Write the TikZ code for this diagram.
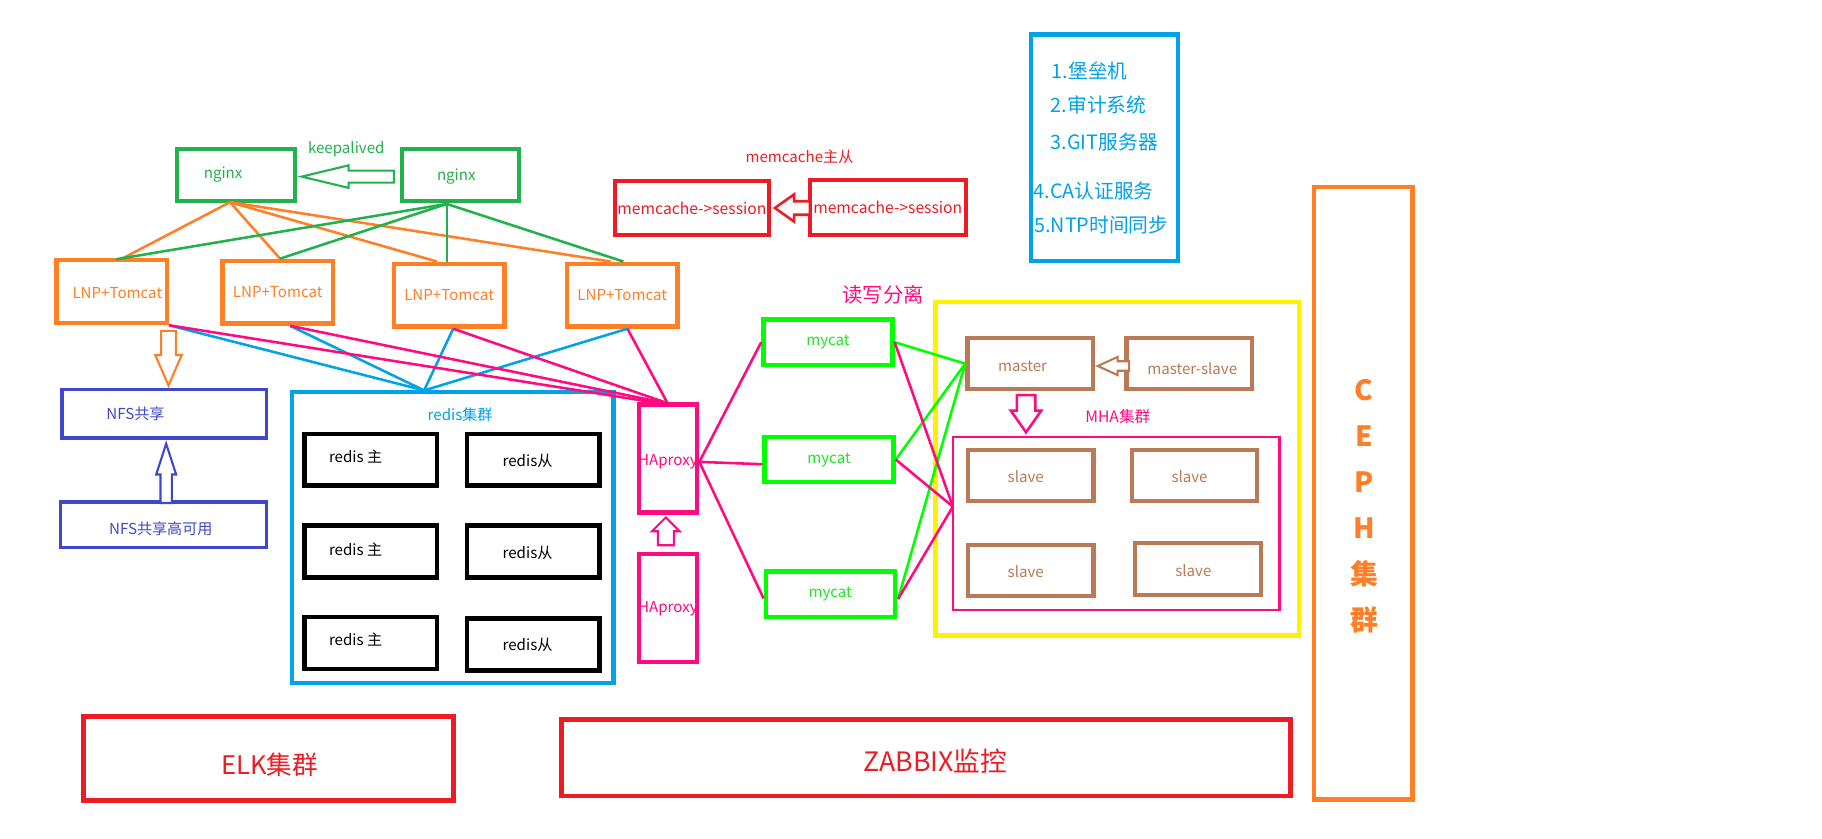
\documentclass[tikz,border=0pt]{standalone}
\usepackage{fontspec}
\setmainfont{Noto Sans CJK SC}
\usetikzlibrary{shapes.arrows,calc}
\definecolor{cgreen}{HTML}{22B14C}
\definecolor{corange}{HTML}{FF7F27}
\definecolor{cindigo}{HTML}{3F48CC}
\definecolor{ccyan}{HTML}{00A2E8}
\definecolor{cpink}{HTML}{FF0A80}
\definecolor{clime}{HTML}{00FF00}
\definecolor{climetext}{HTML}{22E622}
\definecolor{cyellow}{HTML}{FFF200}
\definecolor{cbrown}{HTML}{B97A57}
\definecolor{cred}{HTML}{ED1C24}
\newcommand\myfs[1]{\fontsize{#1}{#1}\selectfont}
\begin{document}
\begin{tikzpicture}[x=1pt,y=-1pt,
  box/.style={draw, rectangle, inner sep=0pt},
  txt/.style={inner sep=0pt, font=\myfs{13}},
  conn/.style={line width=2.2pt},
  barrow/.style={single arrow, draw, fill=white, minimum width=0pt,
                 single arrow head indent=0pt, anchor=tip, line width=1.8pt},
]
\useasboundingbox[fill=white] (0,0) rectangle (1568,722);

% ---------- nginx ----------
\node[box, draw=cgreen, line width=3.5pt, minimum width=102, minimum height=45] (nginxL) at (203,150.5) {};
\node[box, draw=cgreen, line width=3.5pt, minimum width=101, minimum height=45] (nginxR) at (396.5,150.5) {};
\node[txt, text=cgreen] (nginxLt) at (192,150) {nginx};
\node[txt, text=cgreen] (nginxRt) at (392.7,151.5) {nginx};
\node[txt, text=cgreen] (keep) at (298,128.5) {keepalived};
\node[barrow, draw=cgreen, shape border rotate=180, minimum height=79.5, inner sep=4.3,
      single arrow head extend=4.5, single arrow tip angle=27] (kaarrow) at ($(nginxL.east)+(0,1.5)$) {};

% ---------- LNP+Tomcat ----------
\tikzset{lnp/.style={box, draw=corange, line width=3.8pt, minimum width=95, minimum height=54,
  text=corange, font=\myfs{13}}}
\node[lnp] (lnpA) at (96,251) {};
\node[txt, text=corange] (lnpAt) at (101,252) {LNP+Tomcat};
\node[lnp] (lnpB) at (239,251.5) {LNP+Tomcat};
\node[lnp] (lnpC) at (386.5,254) {LNP+Tomcat};
\node[lnp] (lnpD) at (535.5,254) {LNP+Tomcat};

\coordinate (oStart) at (198,174);
\coordinate (gStart) at (384.5,175.5);
\draw[conn, corange] (oStart) -- ($(lnpA.north)+(10,0)$);
\draw[conn, corange] (oStart) -- ($(lnpB.north)+(2,0)$);
\draw[conn, corange] (oStart) -- ($(lnpC.north)+(-10.5,0)$);
\draw[conn, corange] (oStart) -- ($(lnpD.north)+(-10,0)$);
\draw[conn, cgreen] (gStart) -- ($(lnpA.north)+(4,1)$);
\draw[conn, cgreen] (gStart) -- ($(lnpB.north)+(2,0)$);
\draw[conn, cgreen] (gStart) -- ($(lnpC.north)+(-2,0)$);
\draw[conn, cgreen] (gStart) -- ($(lnpD.north)+(1,0)$);

% ---------- NFS ----------
\node[box, draw=cindigo, line width=3.1pt, minimum width=176, minimum height=41.5] (nfs) at (141.5,356) {};
\node[txt, text=cindigo] (nfst) at (116.6,355.7) {NFS共享};
\node[box, draw=cindigo, line width=3.1pt, minimum width=177.5, minimum height=39] (nfs2) at (140.75,451.5) {};
\node[txt, text=cindigo] (nfs2t) at (138.4,455) {NFS共享高可用};
\node[barrow, draw=corange, shape border rotate=270, minimum height=47, inner sep=5.5,
      single arrow head extend=5, single arrow tip angle=47] (a2nfs) at (145,334) {};
\node[barrow, draw=cindigo, shape border rotate=90, minimum height=51, inner sep=4,
      single arrow head extend=3.7, single arrow tip angle=36] (nfs2up) at (143,379) {};

% ---------- redis ----------
\node[box, draw=ccyan, line width=3.7pt, minimum width=276.5, minimum height=250] (redis) at (389.75,462.6) {};
\node[txt, text=ccyan] (redist) at (396,357) {redis集群};
\tikzset{rbox/.style={box, draw=black, line width=4pt, minimum width=114, minimum height=44.5}}
\node[rbox] (r1) at (319,395.75) {};
\node[rbox] (r2) at (458.75,395.75) {};
\node[rbox] (r3) at (319,474.7) {};
\node[rbox] (r4) at (458.75,474.7) {};
\node[rbox] (r5) at (319,553.35) {};
\node[rbox] (r6) at (458.75,554.75) {};
\node[txt] (r1t) at (306,393) {redis 主};
\node[txt] (r2t) at (454,396.5) {redis从};
\node[txt] (r3t) at (306,472.5) {redis 主};
\node[txt] (r4t) at (454,475.6) {redis从};
\node[txt] (r5t) at (306,550.8) {redis 主};
\node[txt] (r6t) at (454,555) {redis从};

% ---------- HAproxy ----------
\node[txt, text=cpink, anchor=west] (ha1t) at (549,397) {HAproxy};
\node[txt, text=cpink, anchor=west] (ha2t) at (549,524) {HAproxy};
\node[box, draw=cpink, line width=3.7pt, minimum width=50, minimum height=93] (ha1) at (575,394.5) {};
\node[box, draw=cpink, line width=3.7pt, minimum width=50, minimum height=93] (ha2) at (575,523.5) {};
\node[barrow, draw=cpink, shape border rotate=90, minimum height=24, inner sep=6,
      single arrow head extend=5, single arrow tip angle=90] (haup) at (573,444) {};

\coordinate (rtop) at (365,336);
\draw[conn, ccyan] (lnpA.south east) -- (rtop);
\draw[conn, ccyan] ($(lnpB.south)+(10.7,0)$) -- (rtop);
\draw[conn, ccyan] ($(lnpC.south)+(3.5,0)$) -- (rtop);
\draw[conn, ccyan] ($(lnpD.south)+(4.5,0)$) -- (rtop);
\draw[conn, cpink] (lnpA.south east) -- ($(ha1.north)+(-13,0)$);
\draw[conn, cpink] ($(lnpB.south)+(10.7,0)$) -- ($(ha1.north)+(-6,0)$);
\draw[conn, cpink] ($(lnpC.south)+(3.5,0)$) -- ($(ha1.north)+(-3,0)$);
\draw[conn, cpink] ($(lnpD.south)+(4.5,0)$) -- ($(ha1.north)+(-1,0)$);

% ---------- memcache ----------
\node[txt, text=cred] (memlab) at (688,135) {memcache主从};
\node[box, draw=cred, line width=3.5pt, minimum width=133, minimum height=46, text=cred, font=\myfs{13.5}] (mem1) at (595.5,179) {memcache->session};
\node[box, draw=cred, line width=3.5pt, minimum width=134, minimum height=47, text=cred, font=\myfs{13.5}] (mem2) at (764,178.5) {memcache->session};
\node[barrow, draw=cred, line width=2.2pt, shape border rotate=180, minimum height=30, inner sep=4.7,
      single arrow head extend=6, single arrow tip angle=71] (memarr) at (665,179) {};

% ---------- mycat ----------
\node[txt, text=cpink, font=\myfs{17.5}] (rw) at (760,254) {读写分离};
\tikzset{mycat/.style={box, draw=clime, line width=3.8pt, minimum width=111, minimum height=39,
  text=climetext, font=\myfs{13}}}
\node[mycat] (m1) at (712.5,294.5) {mycat};
\node[mycat] (m2) at (713.5,395.5) {mycat};
\node[mycat] (m3) at (714.5,511.5) {mycat};
\draw[conn, cpink] ($(ha1.east)+(0,3)$) -- (m1.west);
\draw[conn, cpink] ($(ha1.east)+(0,3)$) -- ($(m2.west)+(0,4)$);
\draw[conn, cpink] ($(ha1.east)+(0,3)$) -- ($(m3.west)+(0,3.5)$);

% ---------- MySQL / MHA ----------
\node[box, draw=cyellow, line width=4pt, minimum width=313, minimum height=287] (yel) at (961.5,403.5) {};
\tikzset{brbox/.style={box, draw=cbrown, line width=3.7pt, minimum width=108, minimum height=44,
  text=cbrown, font=\myfs{13}}}
\node[brbox] (master) at (886.5,313) {};
\node[txt, text=cbrown] (mastert) at (880,315) {master};
\node[brbox] (ms) at (1023.5,313) {};
\node[txt, text=cbrown] (mst) at (1026,317.6) {master-slave};
\node[barrow, draw=cbrown, shape border rotate=180, minimum height=27, inner sep=3.2,
      single arrow head extend=3.7, single arrow tip angle=49] (msarr) at (942.5,315) {};
\node[txt, text=cpink, font=\myfs{13.5}] (mhal) at (962,358.6) {MHA集群};
\node[box, draw=cpink, line width=2.3pt, minimum width=281, minimum height=149] (mha) at (960.5,450.5) {};
\node[barrow, draw=cpink, line width=2.2pt, shape border rotate=270, minimum height=32, inner sep=6.8,
      single arrow head extend=5.2, single arrow tip angle=70] (mhaarr) at (883,374) {};
\node[brbox] (s1) at (887,409) {};
\node[brbox] (s2) at (1028,409) {};
\node[brbox] (s3) at (887,491) {};
\node[brbox, minimum height=45] (s4) at (1031,489.5) {};
\node[txt, text=cbrown] (s1t) at (882.7,410) {slave};
\node[txt, text=cbrown] (s2t) at (1023.7,410) {slave};
\node[txt, text=cbrown] (s3t) at (882.7,492) {slave};
\node[txt, text=cbrown] (s4t) at (1027,491) {slave};

\coordinate (mhaL) at (820,436);
\draw[conn, clime] (m1.east) -- (master.west);
\draw[conn, clime] (m2.east) -- (master.west);
\draw[conn, clime] ($(m3.east)+(1,4)$) -- (master.west);
\draw[conn, cpink] (m1.east) -- (mhaL);
\draw[conn, cpink] (m2.east) -- (mhaL);
\draw[conn, cpink] ($(m3.east)+(1,4)$) -- (mhaL);

% ---------- info box ----------
\node[box, draw=ccyan, line width=3.7pt, minimum width=126.5, minimum height=194.8] (info) at (950.25,127.2) {};
\tikzset{itxt/.style={inner sep=0pt, anchor=west, text=ccyan, font=\myfs{17}}}
\node[itxt] (i1) at (905,60.8) {1.堡垒机};
\node[itxt] (i2) at (904.2,90.4) {2.审计系统};
\node[itxt] (i3) at (904.2,122) {3.GIT服务器};
\node[itxt] (i4) at (889.3,164) {4.CA认证服务};
\node[itxt] (i5) at (890,193.6) {5.NTP时间同步};

% ---------- CEPH ----------
\node[box, draw=corange, line width=3.7pt, minimum width=84.5, minimum height=527] (ceph) at (1173.25,424.5) {};
\node[inner sep=0pt, align=center, text=corange, font=\fontsize{24}{39.6}\selectfont\bfseries] (cepht) at (1174,436)
  {C\\E\\P\\H\\集\\群};

% ---------- bottom ----------
\node[box, draw=cred, line width=4pt, minimum width=318.5, minimum height=72.5] (elk) at (231.25,652.75) {};
\node[txt, text=cred, font=\myfs{22}] (elkt) at (232,658.4) {ELK集群};
\node[box, draw=cred, line width=4pt, minimum width=627.6, minimum height=66] (zab) at (796.8,652) {};
\node[txt, text=cred, font=\myfs{23}] (zabt) at (805,655.5) {ZABBIX监控};
\end{tikzpicture}
\end{document}
